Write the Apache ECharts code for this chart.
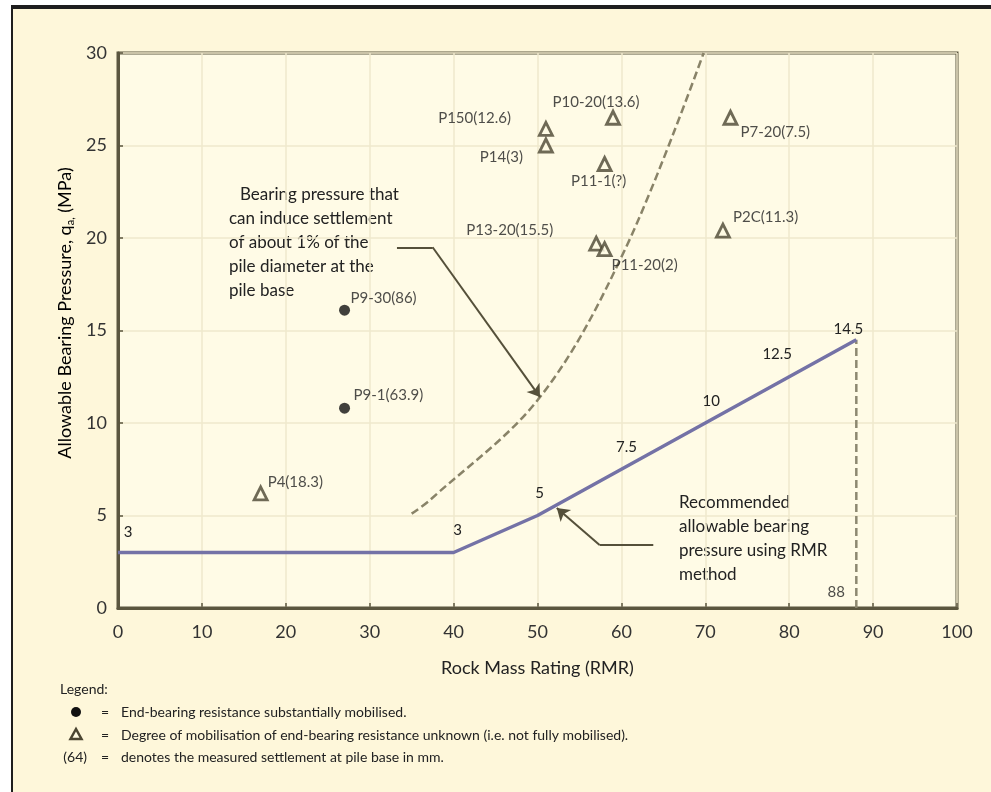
<!DOCTYPE html>
<html>
<head>
<meta charset="utf-8">
<script src="https://cdn.jsdelivr.net/npm/echarts@6/dist/echarts.min.js"></script>
<style>
html,body{margin:0;padding:0;background:#fff;}
#chart{width:991px;height:792px;}
</style>
</head>
<body>
<div id="chart"></div>
<script>
// ---- data ----
const triangleNames = ['P150(12.6)','P14(3)','P10-20(13.6)','P11-1(?)','P7-20(7.5)','P2C(11.3)','P13-20(15.5)','P11-20(2)','P4(18.3)'];
const triangleRMR = [51, 51, 59, 58, 73, 72.1, 57, 58, 17];
const triangleQ = [25.9, 25.0, 26.5, 24.0, 26.5, 20.4, 19.7, 19.4, 6.2];

const dotNames = ['P9-30(86)','P9-1(63.9)'];
const dotRMR = [27, 27];
const dotQ = [16.1, 10.8];

const recRMR = [0, 40, 50, 60, 70, 80, 88];
const recQ = [3, 3, 5, 7.5, 10, 12.5, 14.5];

const settleRMR = [35, 37.2, 50.3, 60.4, 69.8];
const settleQ = [5.1, 5.84, 11.4, 19.35, 30];

const cutoffRMR = [88, 88];
const cutoffQ = [0, 14.5];

// annotation leader lines (data coordinates): elbow point then arrow tip
const bearingArrowRMR = [33.25, 37.5, 50.3];
const bearingArrowQ = [19.5, 19.5, 11.4];
const rmrArrowRMR = [63.8, 57.4, 52.3];
const rmrArrowQ = [3.4, 3.4, 5.4];

const xMin = 0, xMax = 100, xStep = 10;
const yMin = 0, yMax = 30, yStep = 5;

// ---- label layout (style only) ----
const triLabelLayout = [
  ['right', -35, -11], ['right', -23, 12], ['center', -17, -16], ['center', -6, 17],
  ['left', 10, 14], ['left', 10, -13], ['right', -43, -13], ['left', 7, 16], ['left', 7, -11]
];
const dotLabelLayout = [['left', 6, -12], ['left', 9, -13]];
const recLabelOffsets = [[10, -20], [4, -22], [2, -22], [5, -22], [6, -22], [-12, -23], [-8, -11]];

const FONT = 'Lato';
const TXT = '#222';
const LEG = 14;

function pointItems(xs, ys, names, layout) {
  return xs.map((x, i) => ({
    value: [x, ys[i]],
    name: names[i],
    label: {
      show: true, position: 'inside', formatter: names[i],
      align: layout[i][0], verticalAlign: 'middle',
      offset: [layout[i][1], layout[i][2]],
      fontFamily: FONT, fontSize: 15, color: TXT
    }
  }));
}
function seg(xs, ys, a, b) { return {coords: [[xs[a], ys[a]], [xs[b], ys[b]]]}; }

const chart = echarts.init(document.getElementById('chart'), null, {renderer: 'canvas'});

const option = {
  backgroundColor: '#ffffff',
  animation: false,
  graphic: [
    {type: 'rect', z: -10, shape: {x: 12, y: 8, width: 1000, height: 800},
     style: {fill: '#fef7da', stroke: '#1e1e1e', lineWidth: 2}},
    {type: 'rect', z: -9, shape: {x: 11, y: 5, width: 1000, height: 4}, style: {fill: '#1e1e1e'}},
    {type: 'text', x: 65, y: 313, rotation: Math.PI / 2,
     style: {text: '{n|Allowable Bearing Pressure, q}{s|a,}{n| (MPa)}', align: 'center', verticalAlign: 'middle',
       rich: {n: {fontFamily: FONT, fontSize: 18, color: TXT, lineHeight: 22, verticalAlign: 'middle'},
              s: {fontFamily: FONT, fontSize: 11, color: TXT, lineHeight: 11, verticalAlign: 'bottom'}}}},
    {type: 'text', x: 240, y: 195,
     style: {text: 'Bearing pressure that', fontFamily: FONT, fontSize: 17, fill: TXT, align: 'left', verticalAlign: 'middle'}},
    {type: 'text', x: 229, y: 207,
     style: {text: 'can induce settlement\nof about 1% of the\npile diameter at the\npile base',
       fontFamily: FONT, fontSize: 17, lineHeight: 24, fill: TXT, align: 'left', verticalAlign: 'top'}},
    {type: 'text', x: 679, y: 491,
     style: {text: 'Recommended\nallowable bearing\npressure using RMR\nmethod',
       fontFamily: FONT, fontSize: 17, lineHeight: 24, fill: TXT, align: 'left', verticalAlign: 'top'}},
    {type: 'text', x: 60, y: 689, style: {text: 'Legend:', fontFamily: FONT, fontSize: LEG, fill: TXT, verticalAlign: 'middle'}},
    {type: 'circle', shape: {cx: 76, cy: 712, r: 5}, style: {fill: '#111'}},
    {type: 'text', x: 105, y: 712, style: {text: '=', fontFamily: FONT, fontSize: LEG, fill: TXT, align: 'center', verticalAlign: 'middle'}},
    {type: 'text', x: 121, y: 712, style: {text: 'End-bearing resistance substantially mobilised.', fontFamily: FONT, fontSize: LEG, fill: TXT, verticalAlign: 'middle'}},
    {type: 'polygon', shape: {points: [[76, 729], [70.5, 739], [81.5, 739]]}, style: {fill: '#fffbe3', stroke: '#4b4632', lineWidth: 2.5}},
    {type: 'text', x: 105, y: 735, style: {text: '=', fontFamily: FONT, fontSize: LEG, fill: TXT, align: 'center', verticalAlign: 'middle'}},
    {type: 'text', x: 121, y: 735, style: {text: 'Degree of mobilisation of end-bearing resistance unknown (i.e. not fully mobilised).', fontFamily: FONT, fontSize: LEG, fill: TXT, verticalAlign: 'middle'}},
    {type: 'text', x: 87, y: 757, style: {text: '(64)', fontFamily: FONT, fontSize: LEG, fill: TXT, align: 'right', verticalAlign: 'middle'}},
    {type: 'text', x: 105, y: 757, style: {text: '=', fontFamily: FONT, fontSize: LEG, fill: TXT, align: 'center', verticalAlign: 'middle'}},
    {type: 'text', x: 121, y: 757, style: {text: 'denotes the measured settlement at pile base in mm.', fontFamily: FONT, fontSize: LEG, fill: TXT, verticalAlign: 'middle'}}
  ],
  grid: {left: 118, top: 53, right: 34, bottom: 184, show: true, backgroundColor: '#fffbe6',
         borderColor: '#5b563f', borderWidth: 3},
  xAxis: {
    type: 'value', min: xMin, max: xMax, interval: xStep,
    name: 'Rock Mass Rating (RMR)', nameLocation: 'middle', nameGap: 60,
    nameTextStyle: {fontFamily: FONT, fontSize: 18, color: TXT, verticalAlign: 'middle'},
    axisLine: {show: true, lineStyle: {color: '#5b563f', width: 3}},
    axisTick: {show: true, inside: true, length: 5, lineStyle: {color: '#5b563f', width: 1.5}},
    axisLabel: {fontFamily: FONT, fontSize: 18, color: '#333', margin: 15},
    splitLine: {show: true, lineStyle: {color: '#efe8cc', width: 1.5}}
  },
  yAxis: {
    type: 'value', min: yMin, max: yMax, interval: yStep,
    axisLine: {show: true, lineStyle: {color: '#5b563f', width: 3}},
    axisTick: {show: true, inside: true, length: 5, lineStyle: {color: '#5b563f', width: 1.5}},
    axisLabel: {fontFamily: FONT, fontSize: 18, color: '#333', margin: 11},
    splitLine: {show: true, lineStyle: {color: '#efe8cc', width: 1.5}}
  },
  series: [
    {
      type: 'line', name: 'settlement 1%', data: settleRMR.map((x, i) => [x, settleQ[i]]),
      smooth: 0.35, showSymbol: false, symbol: 'none', z: 2,
      lineStyle: {color: '#898368', width: 2.5, type: [8, 4]}
    },
    {
      type: 'line', name: 'cutoff', data: cutoffRMR.map((x, i) => [x, cutoffQ[i]]),
      symbol: 'none', z: 2,
      lineStyle: {color: '#8d8870', width: 2.5, type: [8, 4]}
    },
    {
      type: 'scatter', name: 'cutoff label', symbolSize: 0, silent: true, z: 3,
      data: [{value: [cutoffRMR[0], cutoffQ[0]], label: {show: true, position: 'inside', formatter: String(cutoffRMR[0]),
        offset: [-20, -16], fontFamily: FONT, fontSize: 15, color: TXT}}]
    },
    {
      type: 'line', name: 'recommended', data: recRMR.map((x, i) => ({
        value: [x, recQ[i]],
        label: {show: true, position: 'inside', formatter: String(recQ[i]), offset: recLabelOffsets[i],
          fontFamily: FONT, fontSize: 15, color: TXT}
      })),
      symbol: 'circle', symbolSize: 0.1, showSymbol: true, z: 3,
      lineStyle: {color: '#7472a6', width: 3.5}, itemStyle: {color: '#7472a6'}
    },
    {
      type: 'lines', coordinateSystem: 'cartesian2d', z: 4,
      symbol: 'none',
      lineStyle: {color: '#55503a', width: 2, opacity: 1},
      data: [seg(bearingArrowRMR, bearingArrowQ, 0, 1), seg(rmrArrowRMR, rmrArrowQ, 0, 1)]
    },
    {
      type: 'lines', coordinateSystem: 'cartesian2d', z: 4,
      symbol: ['none', 'arrow'], symbolSize: 12,
      lineStyle: {color: '#55503a', width: 2, opacity: 1},
      itemStyle: {color: '#2f2b1f'},
      data: [seg(bearingArrowRMR, bearingArrowQ, 1, 2), seg(rmrArrowRMR, rmrArrowQ, 1, 2)]
    },
    {
      type: 'scatter', name: 'unknown', symbol: 'triangle', symbolSize: 13, z: 5,
      itemStyle: {color: '#fffbe3', borderColor: '#4b4632', borderWidth: 2.8},
      data: pointItems(triangleRMR, triangleQ, triangleNames, triLabelLayout)
    },
    {
      type: 'scatter', name: 'mobilised', symbol: 'circle', symbolSize: 11, z: 5,
      itemStyle: {color: '#111'},
      data: pointItems(dotRMR, dotQ, dotNames, dotLabelLayout)
    }
  ]
};
chart.setOption(option);
</script>
</body>
</html>
